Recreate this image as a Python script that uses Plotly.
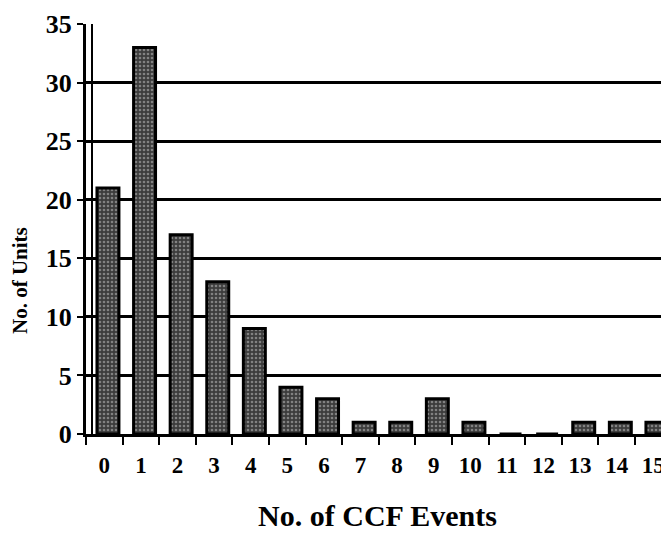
import plotly.graph_objects as go

categories = [str(i) for i in range(16)]
units = [21, 33, 17, 13, 9, 4, 3, 1, 1, 3, 1, 0, 0, 1, 1, 1]
y_ticks = [0, 5, 10, 15, 20, 25, 30, 35]

font = "Liberation Serif, Times New Roman, serif"

# page body has an 8px margin; figure is sized/offset to fill the window
W, H = 661, 529
L, T, B = 78, 16, 103
plot_w = W - L
plot_h = H - T - B

fig = go.Figure()
fig.add_trace(go.Bar(
    x=categories, y=units,
    width=0.6, offset=-0.2,
    marker=dict(
        color="#4a4a4a",
        line=dict(color="black", width=3),
        pattern=dict(shape=".", fgcolor="#c8c8c8", bgcolor="#3c3c3c", size=4, solidity=0.35),
    ),
))

fig.update_layout(
    width=W, height=H,
    margin=dict(l=L, r=0, t=T, b=B),
    paper_bgcolor="white", plot_bgcolor="white",
    showlegend=False,
    font=dict(family=font, color="black"),
    shapes=[dict(type="line", xref="paper", yref="paper", x0=6 / plot_w, x1=6 / plot_w, y0=0, y1=1,
                 line=dict(color="black", width=2))],
    annotations=[dict(text="<b>No. of Units</b>", xref="paper", yref="paper",
                      x=(12 - L) / plot_w, y=(426 - 273) / plot_h, xanchor="center", yanchor="middle",
                      showarrow=False, textangle=-90,
                      font=dict(family=font, size=21, color="black"))],
)
fig.update_xaxes(
    type="category", range=[-0.5, 15.43], automargin=False,
    tickmode="array", tickvals=categories, ticktext=[f"<b>{c}</b>" for c in categories],
    tickson="boundaries", ticks="outside", ticklen=8, tickwidth=2, tickcolor="black",
    showline=True, linecolor="black", linewidth=3,
    showgrid=False, ticklabeloverflow="allow",
    tickfont=dict(family=font, size=23, color="black"),
    ticklabelstandoff=8,
    title=dict(text="<b>No. of CCF Events</b>", font=dict(family=font, size=30, color="black"), standoff=29),
)
fig.update_yaxes(
    range=[0, 35], automargin=False,
    tickmode="array", tickvals=y_ticks, ticktext=[f"<b>{v}</b>" for v in y_ticks],
    ticks="outside", ticklen=6, tickwidth=2, tickcolor="black",
    showline=True, linecolor="black", linewidth=3, mirror=False,
    showgrid=True, gridcolor="black", gridwidth=2.5,
    zeroline=False, ticklabeloverflow="allow",
    tickfont=dict(family=font, size=26, color="black"),
)

fig.write_html("out.html")
